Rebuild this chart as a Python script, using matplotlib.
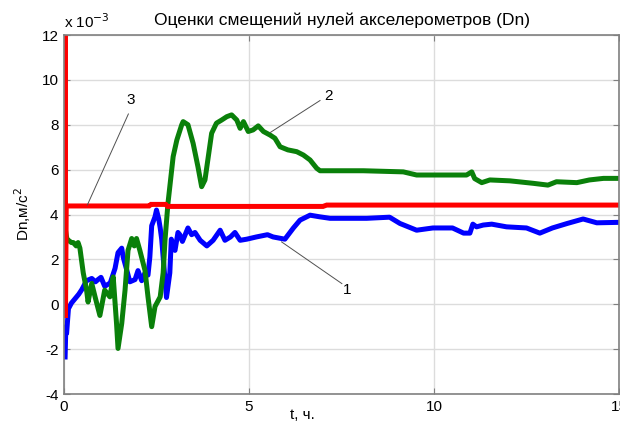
import numpy as np
import matplotlib
matplotlib.use("Agg")
import matplotlib.pyplot as plt

plt.rcParams['font.family'] = ['Liberation Sans', 'DejaVu Sans']
plt.rcParams['axes.unicode_minus'] = False

# values in units of 1e-3 m/s^2, time in hours
blue_t = [0.03, 0.05, 0.07, 0.12, 0.2, 0.3, 0.4, 0.48, 0.61, 0.75, 0.85, 0.92, 1.0, 1.1,
          1.25, 1.38, 1.46, 1.56, 1.6, 1.7, 1.78, 1.92, 2.0, 2.1, 2.19, 2.27, 2.32, 2.37,
          2.46, 2.5, 2.56, 2.6, 2.64, 2.68, 2.77, 2.86, 2.9, 3.0, 3.08, 3.13, 3.2, 3.35,
          3.45, 3.54, 3.68, 3.86, 4.03, 4.22, 4.35, 4.5, 4.62, 4.76, 4.94, 5.2, 5.5, 5.65,
          5.97, 6.2, 6.38, 6.65, 6.9, 7.19, 8.18, 8.8, 9.08, 9.53, 9.97, 10.5, 10.8, 10.97,
          11.05, 11.15, 11.33, 11.56, 11.96, 12.5, 12.86, 13.2, 13.6, 14.03, 14.4, 15.0]
blue_v = [-2.35, -1.0, -1.3, -0.2, 0.05, 0.25, 0.45, 0.65, 1.05, 1.15, 1.0, 1.1, 1.2, 0.8,
          0.95, 1.6, 2.3, 2.5, 2.1, 1.5, 1.0, 1.1, 1.5, 1.05, 1.4, 1.3, 2.1, 3.5,
          3.9, 4.2, 3.8, 3.4, 2.9, 2.1, 0.3, 1.4, 2.9, 2.4, 3.2, 3.1, 2.8, 3.4,
          3.1, 3.2, 2.85, 2.6, 2.85, 3.3, 2.85, 3.0, 3.2, 2.85, 2.9, 3.0, 3.1, 3.0,
          2.9, 3.4, 3.75, 3.97, 3.9, 3.83, 3.83, 3.88, 3.6, 3.3, 3.4, 3.4, 3.17, 3.17,
          3.57, 3.45, 3.53, 3.57, 3.45, 3.4, 3.17, 3.4, 3.6, 3.8, 3.63, 3.65]

green_t = [0.04, 0.08, 0.12, 0.2, 0.25, 0.33, 0.38, 0.43, 0.52, 0.61, 0.65, 0.75, 0.84, 0.97,
           1.1, 1.24, 1.33, 1.42, 1.46, 1.56, 1.65, 1.73, 1.83, 1.9, 1.96, 2.05, 2.19, 2.27,
           2.37, 2.46, 2.6, 2.68, 2.73, 2.81, 2.86, 2.95, 3.05, 3.18, 3.22, 3.35, 3.49, 3.62,
           3.72, 3.81, 3.9, 3.99, 4.12, 4.26, 4.4, 4.53, 4.67, 4.76, 4.85, 4.98, 5.11, 5.25,
           5.39, 5.57, 5.7, 5.84, 6.05, 6.29, 6.47, 6.65, 6.83, 6.92, 8.09, 9.17, 9.53, 10.88,
           11.02, 11.1, 11.29, 11.51, 12.05, 12.68, 13.08, 13.31, 13.86, 14.2, 14.58, 15.0]
green_v = [3.3, 2.9, 2.85, 2.75, 2.75, 2.6, 2.75, 2.5, 1.4, 0.63, 0.1, 0.93, 0.33, -0.5,
           0.63, 0.33, 1.22, -0.86, -1.97, -0.86, 0.63, 2.4, 2.93, 2.6, 2.93, 2.4, 1.5, 0.33,
           -1.0, -0.1, 0.33, 1.4, 2.86, 4.5, 5.24, 6.58, 7.32, 7.99, 8.14, 8.0, 7.17, 6.13,
           5.24, 5.54, 6.58, 7.62, 8.07, 8.21, 8.36, 8.44, 8.21, 7.84, 8.14, 7.7, 7.77, 7.95,
           7.7, 7.54, 7.4, 7.02, 6.88, 6.8, 6.65, 6.43, 6.06, 5.95, 5.95, 5.9, 5.76, 5.76,
           5.9, 5.6, 5.42, 5.54, 5.5, 5.39, 5.31, 5.46, 5.42, 5.54, 5.61, 5.61]

red_t = [0.04, 0.04, 0.06, 2.3, 2.35, 2.75, 2.8, 7.0, 7.1, 15.0]
red_v = [12.5, -0.6, 4.38, 4.38, 4.45, 4.45, 4.36, 4.36, 4.42, 4.42]

x_ticks = [0, 5, 10, 15]
y_ticks = [-4, -2, 0, 2, 4, 6, 8, 10, 12]

fig = plt.figure(figsize=(6.2, 4.26), dpi=100)
ax = fig.add_axes([64 / 620, 32 / 426, 555 / 620, 359 / 426])

ax.plot(blue_t, blue_v, color='#0000ff', lw=3.6, solid_joinstyle='round')
ax.plot(green_t, green_v, color='#0a800a', lw=3.6, solid_joinstyle='round')
ax.plot(red_t, red_v, color='#ff0000', lw=3.6, solid_joinstyle='miter')

ax.set_xlim(0, 15)
ax.set_ylim(-4, 12)
ax.set_xticks(x_ticks)
ax.set_yticks(y_ticks)
ax.tick_params(direction='in', top=True, right=True, length=4, color='#808080',
               labelsize=11, pad=4)
ax.grid(True, color='#dcdcdc', lw=1)
ax.set_axisbelow(True)
for s in ax.spines.values():
    s.set_color('#808080')
    s.set_linewidth(1.2)

ax.set_title('Оценки смещений нулей акселерометров (Dn)', fontsize=12.5, pad=7)
ax.text(0.0, 1.012, 'x 10$^{-3}$', transform=ax.transAxes, fontsize=11, va='bottom')
ax.set_ylabel('Dn,м/с$^2$', fontsize=11, labelpad=6)
fig.text(302 / 620, 4 / 426, 't, ч.', fontsize=11, ha='center', va='bottom')

# leader lines
ax.plot([5.88, 7.51], [2.78, 0.92], color='#505050', lw=0.7)
ax.text(7.65, 0.63, '1', fontsize=11, ha='center', va='center')
ax.plot([5.57, 6.92], [7.65, 9.08], color='#505050', lw=0.7)
ax.text(7.14, 9.3, '2', fontsize=11, ha='center', va='center')
ax.plot([0.63, 1.74], [4.42, 8.48], color='#505050', lw=0.7)
ax.text(1.8, 9.1, '3', fontsize=11, ha='center', va='center')

fig.savefig('out.png', dpi=100)
